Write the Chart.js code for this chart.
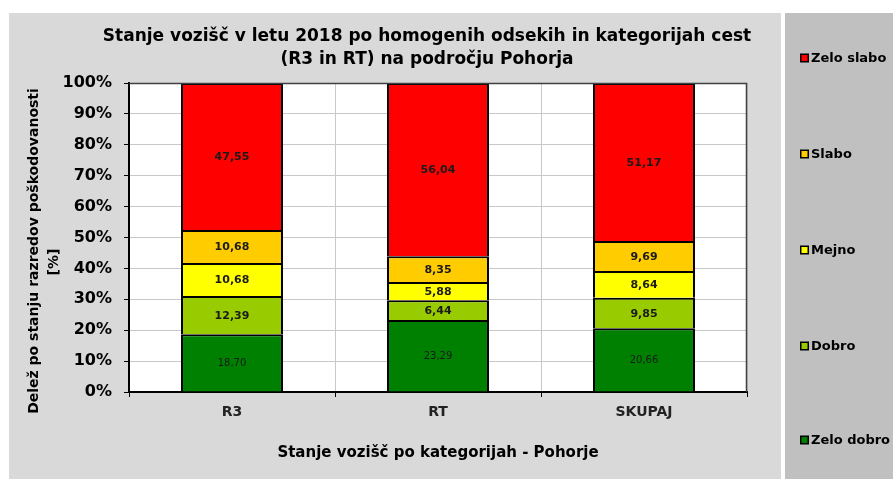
<!DOCTYPE html>
<html>
<head>
<meta charset="utf-8">
<script src="https://cdn.jsdelivr.net/npm/chart.js@4/dist/chart.umd.min.js"></script>
<style>
html,body{margin:0;padding:0;background:#fff;}
#wrap{width:893px;height:479px;position:relative;}
</style>
</head>
<body>
<div id="wrap"><canvas id="c" width="893" height="479"></canvas></div>
<script>
const categories = ['R3', 'RT', 'SKUPAJ'];
const seriesNames = ['Zelo dobro', 'Dobro', 'Mejno', 'Slabo', 'Zelo slabo'];
const zeloDobro = [18.70, 23.29, 20.66];
const dobro = [12.39, 6.44, 9.85];
const mejno = [10.68, 5.88, 8.64];
const slabo = [10.68, 8.35, 9.69];
const zeloSlabo = [47.55, 56.04, 51.17];
const yTickValues = [0, 10, 20, 30, 40, 50, 60, 70, 80, 90, 100];
const titleLines = ['Stanje vozišč v letu 2018 po homogenih odsekih in kategorijah cest', '(R3 in RT) na področju Pohorja'];
const yTitleLines = ['Delež po stanju razredov poškodovanosti', '[%]'];
const xTitle = 'Stanje vozišč po kategorijah - Pohorje';

const colors = ['#008000', '#99CC00', '#FFFF00', '#FFCC00', '#FF0000'];
const seriesValues = [zeloDobro, dobro, mejno, slabo, zeloSlabo];

const datasets = seriesNames.map((n, i) => ({
  label: n,
  data: seriesValues[i],
  backgroundColor: colors[i],
  borderColor: '#000',
  borderWidth: 2,
  borderSkipped: 'start',
  categoryPercentage: 1.0,
  barPercentage: 0.495
}));

const decorPlugin = {
  id: 'decor',
  beforeDraw(chart) {
    const ctx = chart.ctx;
    const ca = chart.chartArea;
    ctx.save();
    ctx.fillStyle = '#ffffff';
    ctx.fillRect(0, 0, 893, 479);
    ctx.fillStyle = '#d9d9d9';
    ctx.fillRect(9, 13, 772, 466);
    ctx.fillStyle = '#c0c0c0';
    ctx.fillRect(785, 13, 108, 466);
    ctx.fillStyle = '#ffffff';
    ctx.fillRect(ca.left, ca.top, ca.right - ca.left, ca.bottom - ca.top);
    ctx.restore();
  },
  afterDraw(chart) {
    const ctx = chart.ctx;
    const ca = chart.chartArea;
    ctx.save();
    ctx.strokeStyle = '#404040';
    ctx.lineWidth = 1.5;
    ctx.beginPath();
    ctx.moveTo(ca.left, ca.top + 0.5);
    ctx.lineTo(ca.right - 0.5, ca.top + 0.5);
    ctx.lineTo(ca.right - 0.5, ca.bottom);
    ctx.stroke();
    ctx.fillStyle = '#000';
    ctx.textAlign = 'center';
    ctx.textBaseline = 'middle';
    ctx.font = 'bold 17px "DejaVu Sans"';
    ctx.fillText(titleLines[0], 427, 37);
    ctx.fillText(titleLines[1], 427, 60);
    ctx.save();
    ctx.translate(34, 251);
    ctx.rotate(-Math.PI / 2);
    ctx.font = 'bold 14px "DejaVu Sans"';
    ctx.fillText(yTitleLines[0], 0, 0);
    ctx.fillText(yTitleLines[1], -11, 20);
    ctx.restore();
    ctx.font = 'bold 15px "DejaVu Sans"';
    ctx.fillText(xTitle, (ca.left + ca.right) / 2, 453);
    ctx.textAlign = 'left';
    ctx.font = 'bold 13px "DejaVu Sans"';
    const ys = [58, 154, 250, 346, 440];
    const ds = chart.data.datasets.slice().reverse();
    ds.forEach((d, i) => {
      const y = ys[i];
      ctx.fillStyle = '#000';
      ctx.fillRect(800, y - 4.5, 9, 9);
      ctx.fillStyle = d.backgroundColor;
      ctx.fillRect(801.5, y - 3, 6, 6);
      ctx.fillStyle = '#000';
      ctx.fillText(d.label, 811, y + 1);
    });
    ctx.restore();
  },
  afterDatasetsDraw(chart) {
    const ctx = chart.ctx;
    ctx.save();
    ctx.textAlign = 'center';
    ctx.textBaseline = 'middle';
    chart.data.datasets.forEach((d, di) => {
      const meta = chart.getDatasetMeta(di);
      meta.data.forEach((el, i) => {
        const v = d.data[i];
        const txt = v.toFixed(2).replace('.', ',');
        ctx.font = di === 0 ? '10px "DejaVu Sans"' : 'bold 11px "DejaVu Sans"';
        ctx.fillStyle = '#1a1a1a';
        ctx.fillText(txt, el.x, (el.y + el.base) / 2 + 1);
      });
    });
    ctx.restore();
  }
};

new Chart(document.getElementById('c'), {
  type: 'bar',
  data: { labels: categories, datasets },
  plugins: [decorPlugin],
  options: {
    responsive: false,
    animation: false,
    events: [],
    layout: { padding: { left: 10, top: 83, right: 146, bottom: 0 } },
    plugins: { legend: { display: false }, title: { display: false }, tooltip: { enabled: false } },
    scales: {
      x: {
        stacked: true,
        afterFit(s) { s.height = 87; },
        grid: { color: '#c8c8c8', tickColor: '#000', tickLength: 5, offset: true, lineWidth: 1 },
        border: { color: '#000', width: 2 },
        ticks: { color: '#222', font: { family: 'DejaVu Sans', size: 14, weight: 'bold' }, padding: 7 }
      },
      y: {
        stacked: true,
        min: 0,
        max: 100,
        afterFit(s) { s.width = 119; },
        afterBuildTicks(s) { s.ticks = yTickValues.map(v => ({ value: v })); },
        grid: { color: '#c8c8c8', tickColor: '#000', tickLength: 5, lineWidth: 1 },
        border: { color: '#000', width: 2 },
        ticks: {
          color: '#000',
          font: { family: 'DejaVu Sans', size: 16, weight: 'bold' },
          padding: 12,
          callback: v => v + '%'
        }
      }
    }
  }
});
</script>
</body>
</html>
